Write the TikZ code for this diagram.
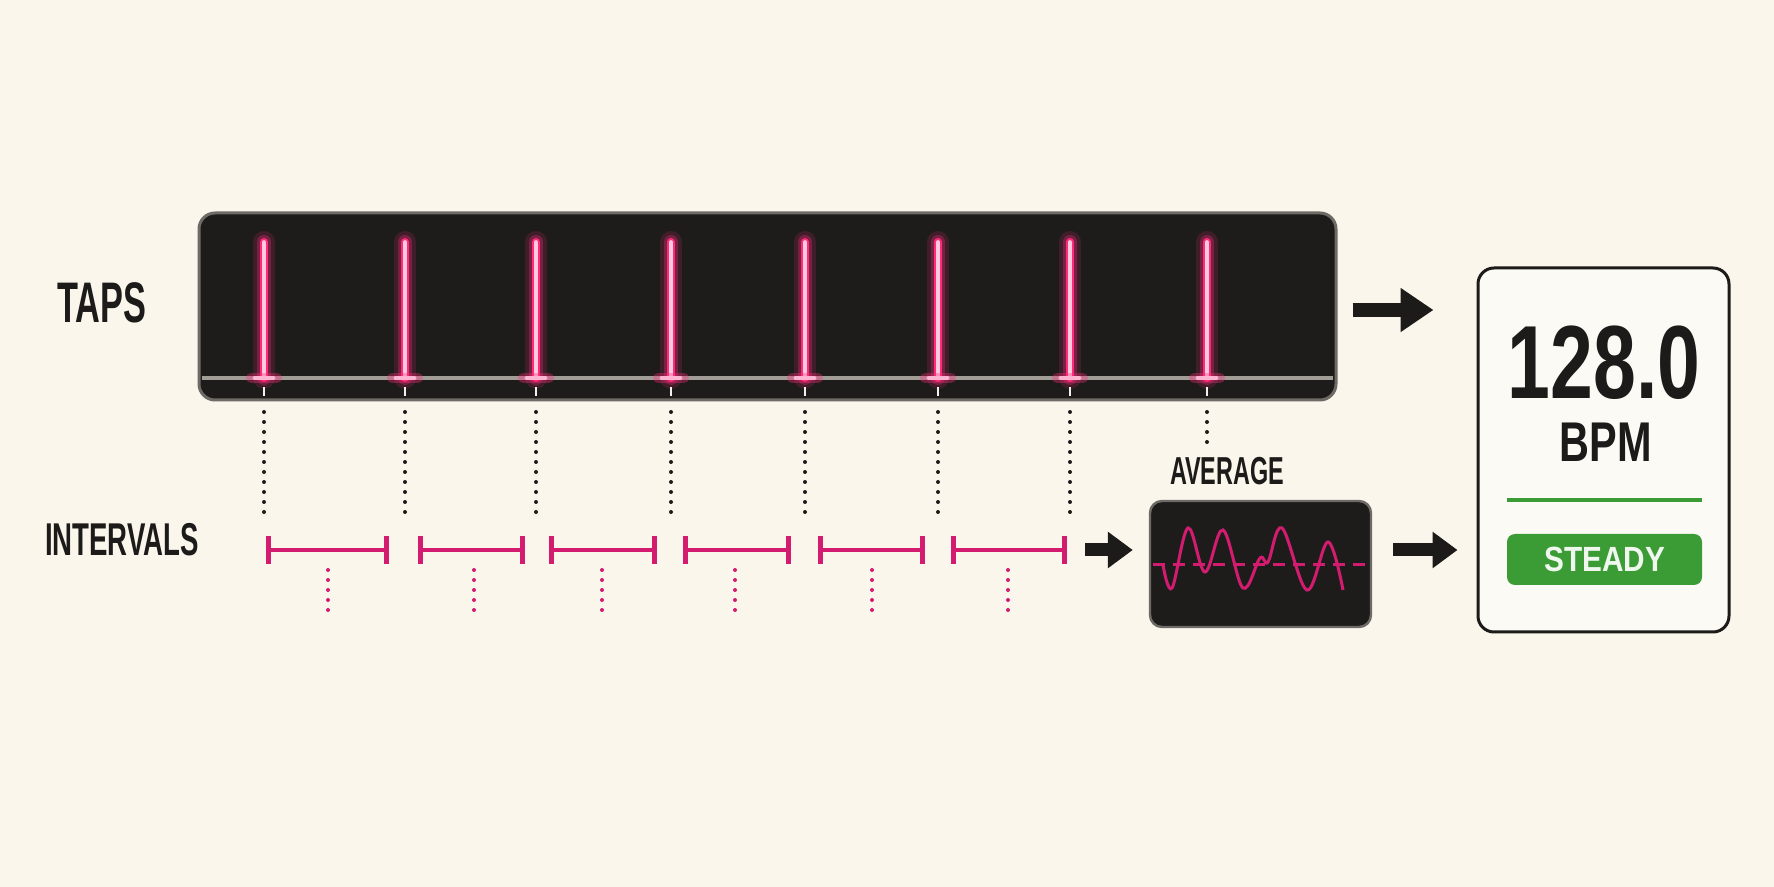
\documentclass[tikz,border=0pt]{standalone}
\usepackage{fontspec}
\setmainfont{Liberation Sans}
\newfontfamily\labelfont[FakeStretch=0.6]{Liberation Sans}
\newfontfamily\numfont[FakeStretch=0.74]{Liberation Sans}
\newfontfamily\btnfont[FakeStretch=0.85]{Liberation Sans}
\usepackage{tikz}
\usetikzlibrary{arrows.meta,positioning}

\definecolor{paper}{HTML}{FAF6EC}
\definecolor{ink}{HTML}{1C1B1A}
\definecolor{panel}{HTML}{1E1C1B}
\definecolor{rim}{HTML}{6E6A65}
\definecolor{rail}{HTML}{A39D98}
\definecolor{neon}{HTML}{FF2A7C}
\definecolor{magenta}{HTML}{D31C70}
\definecolor{okgreen}{HTML}{3B9B35}

\tikzset{
  bar/.style = {rounded corners=8pt, fill=panel, draw=rim, line width=1.5pt},
  screen/.style = {rounded corners=6pt, fill=panel, draw=rim, line width=1.2pt},
  display/.style = {rounded corners=8pt, fill=paper!60!white, draw=ink, line width=1.5pt},
  caption/.style = {inner sep=0pt, text=ink, font=\labelfont\bfseries},
  dotline/.style = {line width=2pt, line cap=round, dash pattern=on 0pt off 5pt},
  span/.style = {magenta, line width=2pt, {Bar[width=14pt,line width=2.6pt]}-{Bar[width=14pt,line width=2.6pt]}},
  bigarrow/.style = {ink, line width=7pt, -{Triangle[length=16.5pt,width=21pt]}},
  midarrow/.style = {ink, line width=6.5pt, -{Triangle[length=12.5pt,width=17.5pt]}}
}

\begin{document}
\begin{tikzpicture}[x=0.5pt, y=-0.5pt]
\useasboundingbox (0,0) rectangle (1774,887);
\fill[paper] (0,0) rectangle (1774,887);

% tap strip
\node[bar, minimum width=568.5pt, minimum height=93.5pt] (bar) at (767.5,306.5) {};
\draw[rail, line width=1.6pt] (202,378) -- (1333,378);
\node[caption, font=\labelfont\bfseries\fontsize{28.6}{30}\selectfont] (taps) at (102,302.5) {TAPS};

\foreach \x [count=\i] in {264,405,536,671,805,938,1070,1207} {
  \coordinate (t\i) at (\x,242);
  \coordinate (b\i) at (\x,378);
  \draw[neon, opacity=0.15, line width=11pt, line cap=round] (t\i) -- (b\i);
  \draw[neon, opacity=0.3, line width=7pt, line cap=round] (t\i) -- (b\i);
  \draw[neon, line width=4pt, line cap=round] (t\i) -- (b\i);
  \draw[white!75!neon, line width=1.8pt, line cap=round] (t\i) -- (b\i);
  \draw[neon, opacity=0.35, line width=5pt, line cap=round] (\x-13,378) -- (\x+13,378);
  \draw[white!65!neon, line width=2.4pt, line cap=round] (\x-9,378) -- (\x+9,378);
  \draw[white!85!rail, line width=1.2pt] (\x,387) -- (\x,396);
}
% drop lines
\foreach \i in {1,...,7}
  \draw[ink, dotline] (t\i |- 0,412) -- (t\i |- 0,514);
\draw[ink, dotline] (t8 |- 0,412) -- (t8 |- 0,447);

% intervals
\node[caption, font=\labelfont\bfseries\fontsize{23}{25}\selectfont] (intervals) at (122,540) {INTERVALS};
\foreach \a/\b/\m [count=\i] in {266/389/328, 418/525/474, 549/657/602, 683/791/735, 818/925/872, 951/1067/1008} {
  \coordinate (s\i) at (\a,550);
  \coordinate (iv\i) at (\b,550);
  \draw[span] (s\i) -- (iv\i);
  \draw[magenta, dotline] (\m,570) -- (\m,610);
}

% average
\node[screen, minimum width=110.5pt, minimum height=63pt] (avg) at (1260.5,564) {};
\node[caption, font=\labelfont\bfseries\fontsize{19.5}{21}\selectfont] (avglabel) at (1227,471.5) {AVERAGE};
\draw[magenta, line width=1.5pt, dash pattern=on 6pt off 4pt] (1153,565) -- (1368,565);
\draw[magenta, line width=1.5pt] plot[smooth, tension=0.6] coordinates {
  (1163,565) (1172,588) (1188,528) (1205,572) (1223,530) (1243,588)
  (1260,558) (1268,562) (1282,528) (1307,590) (1328,542) (1343,590)};

% readout
\node[display, minimum width=125.5pt, minimum height=182pt] (disp) at (1603.5,450) {};
\node[inner sep=0pt, text=ink, font=\numfont\bfseries\fontsize{52}{54}\selectfont] (bpmval) at (1604,362.5) {128.0};
\node[inner sep=0pt, text=ink, font=\numfont\bfseries\fontsize{28}{30}\selectfont] (bpm) at (1606,442) {BPM};
\draw[okgreen, line width=2pt] (1507,500) -- (1702,500);
\node[rounded corners=4pt, fill=okgreen, minimum width=97.5pt, minimum height=25.5pt,
      text=white!92!okgreen, font=\btnfont\bfseries\fontsize{17.5}{19}\selectfont] (steady) at (1604.5,559.5) {STEADY};

% arrows
\draw[bigarrow, shorten <=7.5pt, shorten >=21.5pt] ([yshift=-1.75pt]bar.east) -- ([yshift=-1.75pt]bar.east -| disp.west);
\draw[midarrow, shorten <=9pt, shorten >=8pt] (iv6) -- (iv6 -| avg.west);
\draw[midarrow, shorten <=10.5pt, shorten >=9.5pt] ([yshift=7pt]avg.east) -- ([yshift=7pt]avg.east -| disp.west);
\end{tikzpicture}
\end{document}
